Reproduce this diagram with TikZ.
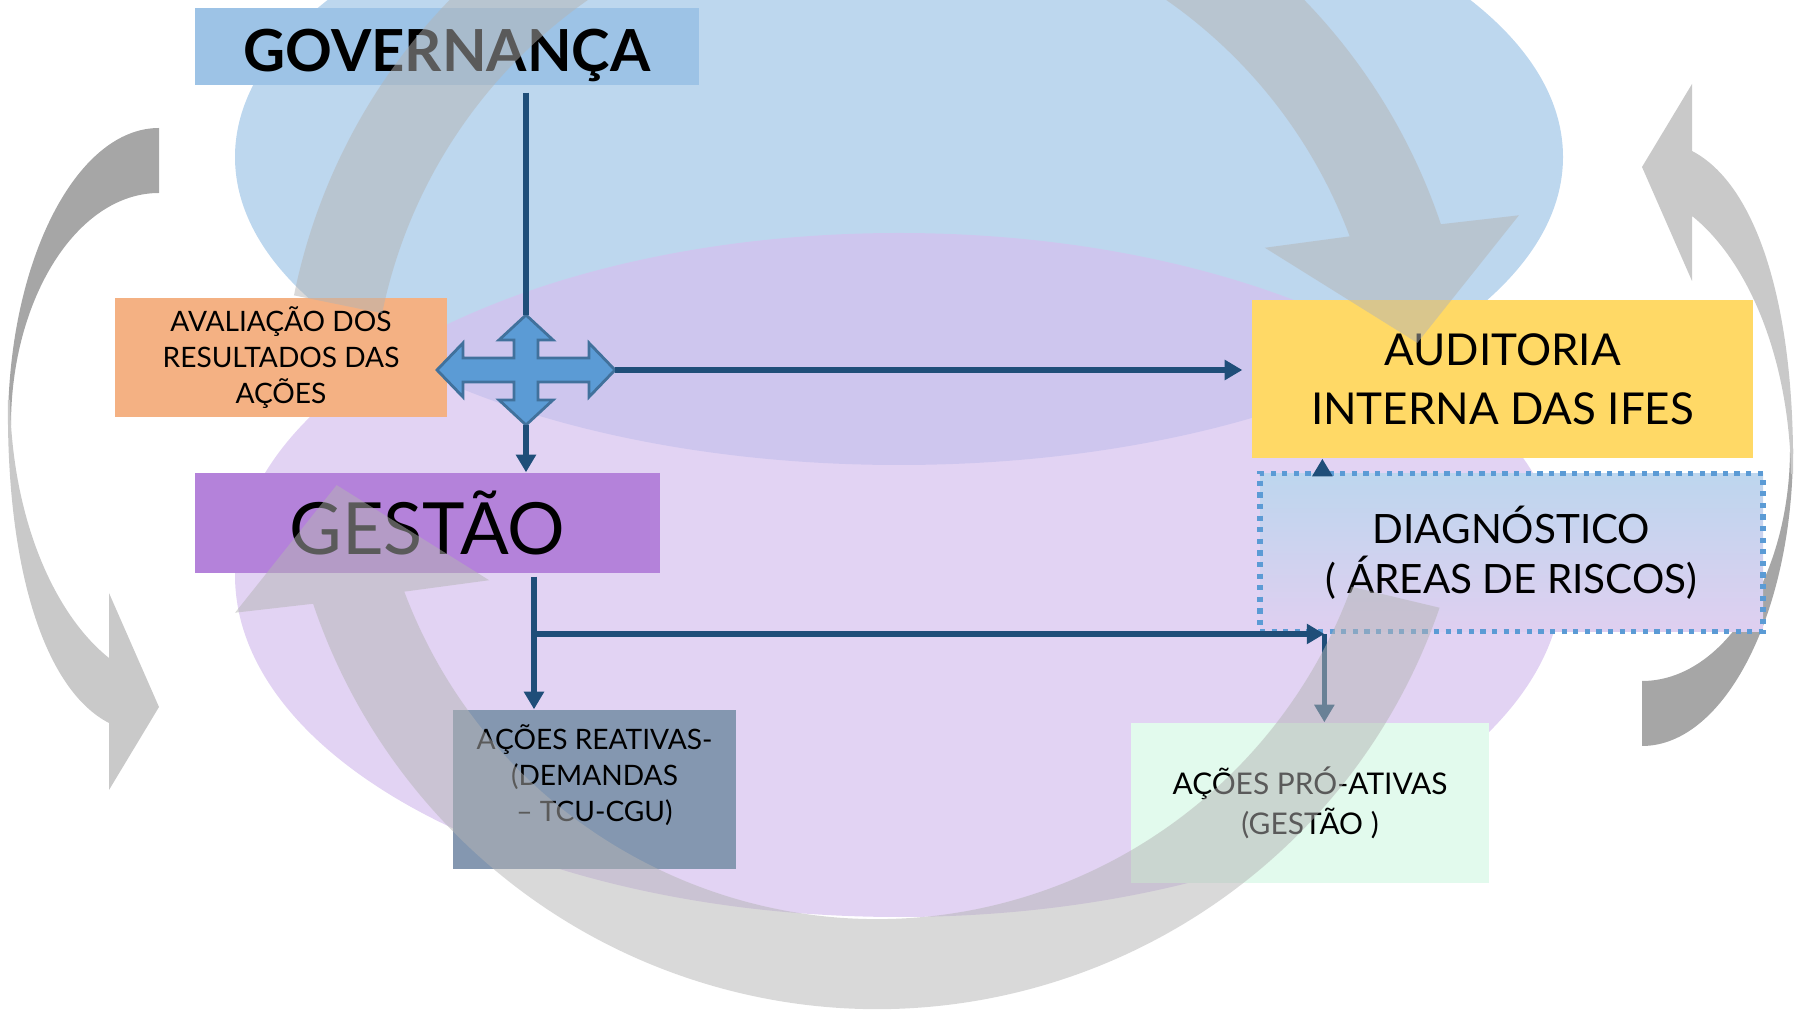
\documentclass[tikz,border=0pt]{standalone}
\usepackage{fontspec}
\setmainfont{Lato}
\usetikzlibrary{arrows.meta, positioning, calc}

\definecolor{ellblue}{RGB}{189,215,238}
\definecolor{ellpurple}{RGB}{214,192,238}
\definecolor{govblue}{RGB}{157,195,230}
\definecolor{gestpurple}{RGB}{180,130,218}
\definecolor{avalorange}{RGB}{244,177,131}
\definecolor{reatslate}{RGB}{132,151,176}
\definecolor{audyellow}{RGB}{255,217,102}
\definecolor{promint}{RGB}{226,250,237}
\definecolor{diagtop}{RGB}{189,214,238}
\definecolor{diagbot}{RGB}{223,207,240}
\definecolor{linkblue}{RGB}{31,78,121}
\definecolor{crossblue}{RGB}{91,155,213}
\definecolor{crossedge}{RGB}{65,113,156}
\definecolor{cycgray}{RGB}{180,180,180}
\definecolor{sidedark}{RGB}{166,166,166}
\definecolor{sidelight}{RGB}{201,201,201}

\tikzset{
    plainbox/.style={
        rectangle, inner sep=0pt, align=center, text=black
    },
    govbox/.style={
        plainbox, fill=govblue, minimum width=5.04cm, minimum height=0.77cm, text height=14.1pt, text depth=0pt, font=\fontsize{16.5}{20}\selectfont\bfseries
    },
    gestbox/.style={
        plainbox, fill=gestpurple, minimum width=4.65cm, minimum height=1cm, font=\fontsize{20.5}{24}\selectfont
    },
    avalbox/.style={
        plainbox, fill=avalorange, minimum width=3.32cm, minimum height=1.19cm, font=\fontsize{8}{10.2}\selectfont
    },
    reatbox/.style={
        plainbox, fill=reatslate, minimum width=2.83cm, minimum height=1.59cm
    },
    smalltext/.style={
        align=center, inner sep=0pt, text=black, font=\fontsize{8}{10.2}\selectfont
    },
    audbox/.style={
        plainbox, fill=audyellow, minimum width=5.01cm, minimum height=1.58cm, font=\fontsize{12.5}{16.8}\selectfont
    },
    diagbox/.style={
        plainbox, draw=crossblue, line width=1.5pt, dash pattern=on 1.5pt off 1.8pt, top color=diagtop, bottom color=diagbot, minimum width=5.03cm, minimum height=1.58cm, font=\fontsize{11.5}{14.2}\selectfont
    },
    probox/.style={
        plainbox, fill=promint, minimum width=3.58cm, minimum height=1.6cm, font=\fontsize{8.5}{11.4}\selectfont
    },
    plainline/.style={
        draw=linkblue, line width=1.6pt
    },
    arrow/.style={
        plainline, -{Triangle[length=5pt, width=5.5pt]}
    },
    quadarrow/.style={
        fill=crossblue, draw=crossedge, line width=0.8pt
    },
    cyclearc/.style={
        fill=cycgray, fill opacity=0.5
    }
}

\begin{document}
\begin{tikzpicture}

    \clip (0,0) rectangle (18.04,-10.11);

    % side arrows
    \foreach \turn in {0,180} {
        \begin{scope}[rotate around={\turn:(9.005,-4.37)}]
            \fill[sidedark] (1.59,-1.28) .. controls (0.76,-1.28) and (0.08,-2.62) .. (0.08,-4.25)
                -- (0.11,-4.25) .. controls (0.11,-2.99) and (0.77,-1.93) .. (1.59,-1.93) -- cycle;
            \fill[sidelight] (0.08,-4.0) .. controls (0.06,-5.7) and (0.45,-6.9) .. (1.09,-7.23)
                -- (1.09,-7.90) -- (1.59,-7.07) -- (1.09,-5.93) -- (1.09,-6.58)
                .. controls (0.55,-6.15) and (0.12,-5.2) .. (0.10,-4.0) -- cycle;
        \end{scope}
    }

    % background ellipses
    \fill[ellblue] (8.99,-1.57) ellipse [x radius=6.64, y radius=3.08];
    \fill[ellpurple, fill opacity=0.7] (8.99,-5.75) ellipse [x radius=6.64, y radius=3.42];

    % nodes
    \node (gov) [govbox] at (4.47,-0.465) {GOVERNANÇA};
    \node (aval) [avalbox] at (2.81,-3.575) {AVALIAÇÃO DOS\\RESULTADOS DAS\\AÇÕES};
    \node (gestao) [gestbox] at (4.275,-5.23) {GESTÃO};
    \node (reat) [reatbox, label={[smalltext, yshift=1.45mm]center:{AÇÕES REATIVAS-\\(DEMANDAS\\– TCU-CGU)}}] at (5.945,-7.895) {};
    \node (aud) [audbox] at (15.025,-3.79) {AUDITORIA\\INTERNA DAS IFES};
    \node (diag) [diagbox, below=1.2mm of aud, xshift=0.9mm] {DIAGNÓSTICO\\( ÁREAS DE RISCOS)};
    \node (pro) [probox] at (13.10,-8.03) {AÇÕES PRÓ-ATIVAS\\(GESTÃO )};

    % four-way arrow
    \coordinate (cross) at (5.26,-3.70);
    \filldraw[quadarrow, shift={(cross)}] (0,0.55) -- (0.27,0.30) -- (0.12,0.30) -- (0.12,0.12) -- (0.63,0.12)
        -- (0.63,0.27) -- (0.89,0) -- (0.63,-0.27) -- (0.63,-0.12) -- (0.12,-0.12) -- (0.12,-0.30)
        -- (0.27,-0.30) -- (0,-0.55) -- (-0.27,-0.30) -- (-0.12,-0.30) -- (-0.12,-0.12) -- (-0.63,-0.12)
        -- (-0.63,-0.27) -- (-0.89,0) -- (-0.63,0.27) -- (-0.63,0.12) -- (-0.12,0.12) -- (-0.12,0.30)
        -- (-0.27,0.30) -- cycle;

    % connectors
    \draw [plainline, shorten <=0.7mm] (cross |- gov.south) -- ([yshift=5.5mm]cross);
    \draw [arrow] ([yshift=-5.5mm]cross) -- (cross |- gestao.north);
    \draw [arrow, shorten >=0.9mm] ([xshift=8.9mm]cross) -- (cross -| aud.west);
    \draw [arrow, shorten <=0.3mm] ([xshift=10.65mm]gestao.south) coordinate (gdrop) -- (gdrop |- reat.north);
    \draw [arrow] (gdrop |- diag.south) -- ([xshift=6.7mm]diag.south west);
    \draw [arrow] ([xshift=6.7mm]diag.south west) coordinate (dfoot) -- (dfoot |- pro.north);
    \draw [arrow] ([xshift=6.5mm]diag.north west) coordinate (dhead) -- (dhead |- aud.south);

    % big cycle arrows
    \coordinate (hub) at (8.77,-4.14);
    \fill[cyclearc] ($(hub)+(168.5:5.95)$) arc [start angle=168.5, end angle=18.6, radius=5.95]
        -- ($(hub)+(17.2:6.72)$) -- ($(hub)+(7.5:5.45)$) -- ($(hub)+(23.2:4.22)$)
        -- ($(hub)+(20.6:5.05)$) arc [start angle=20.6, end angle=168.5, radius=5.05] -- cycle;
    \fill[cyclearc] ($(hub)+(-19:5.95)$) arc [start angle=-19, end angle=-161.4, radius=5.95]
        -- ($(hub)+(-162.8:6.72)$) -- ($(hub)+(-172.5:5.45)$) -- ($(hub)+(-156.8:4.22)$)
        -- ($(hub)+(-159.4:5.05)$) arc [start angle=-159.4, end angle=-20, radius=5.05] -- cycle;

\end{tikzpicture}
\end{document}
